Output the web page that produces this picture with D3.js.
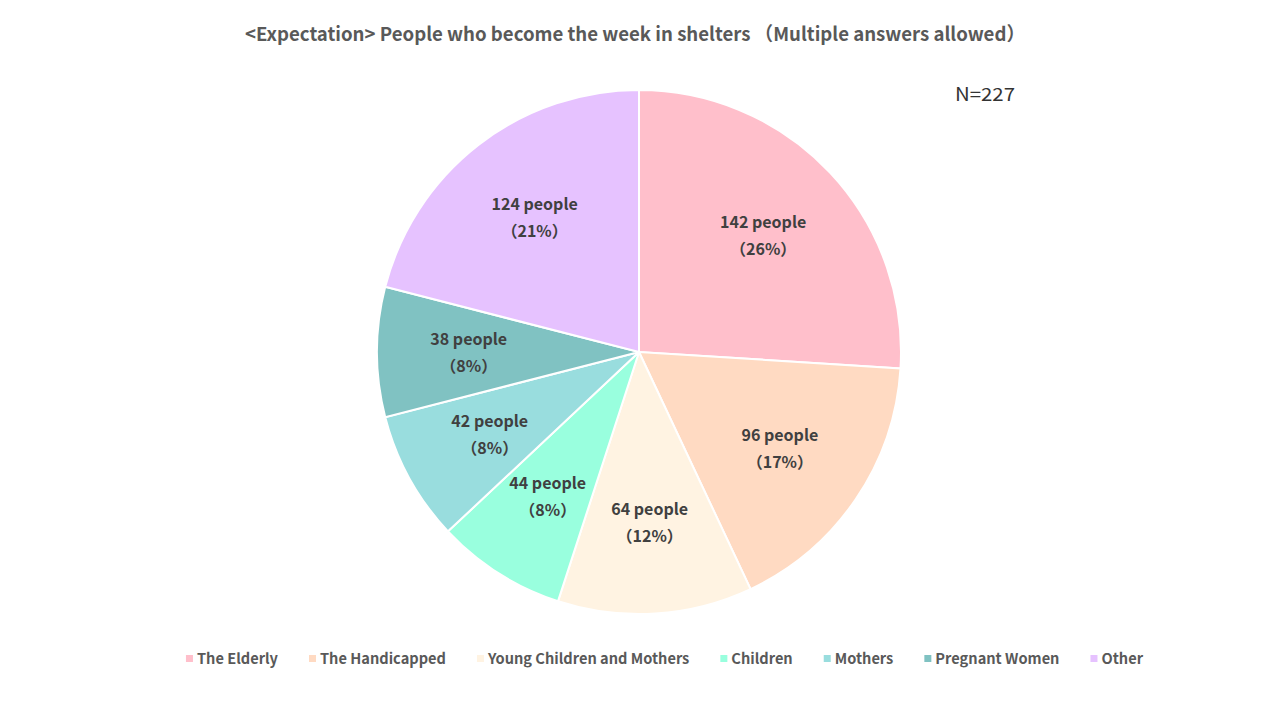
<!DOCTYPE html>
<html>
<head>
<meta charset="utf-8">
<script src="https://cdn.jsdelivr.net/npm/d3@7"></script>
<style>
  body { margin: 0; background: #fff; }
  svg { display: block; }
</style>
</head>
<body>
<svg></svg>
<script>
// data
var categories = ["The Elderly", "The Handicapped", "Young Children and Mothers",
    "Children", "Mothers", "Pregnant Women", "Other"];
var counts = [142, 96, 64, 44, 42, 38, 124];
// slices in the reference are sized by the shown percentages
var percents = [26, 17, 12, 8, 8, 8, 21];
var colors = ["#FFBFCB", "#FFDAC2", "#FFF3E2", "#99FFDE", "#99DDDE", "#80C2C2", "#E6C2FF"];

var w = 1280;
var h = 720;
var cx = 639, cy = 352, r = 262;
var font = "'Noto Sans CJK JP', 'Noto Sans', sans-serif";

var svg = d3.select("svg")
    .attr("width", w)
    .attr("height", h);

// title
svg.append("text")
    .attr("x", 635)
    .attr("y", 41)
    .attr("text-anchor", "middle")
    .attr("font-family", font)
    .attr("font-weight", "bold")
    .attr("font-size", "19px")
    .attr("fill", "#595959")
    .attr("textLength", 780)
    .attr("lengthAdjust", "spacingAndGlyphs")
    .text("<Expectation> People who become the week in shelters （Multiple answers allowed）");

svg.append("text")
    .attr("x", 955)
    .attr("y", 101)
    .attr("font-family", font)
    .attr("font-size", "18px")
    .attr("fill", "#333")
    .attr("textLength", 60)
    .attr("lengthAdjust", "spacingAndGlyphs")
    .text("N=227");

var pie = d3.pie().sort(null).value(function (d) { return d; });
var arcs = pie(percents);

var arc = d3.arc().innerRadius(0).outerRadius(r);
var labelArc = d3.arc().innerRadius(r * 0.65).outerRadius(r * 0.65);

var g = svg.append("g").attr("transform", "translate(" + cx + "," + cy + ")");

g.selectAll("path")
    .data(arcs)
    .enter()
    .append("path")
    .attr("d", arc)
    .attr("fill", function (d, i) { return colors[i]; })
    .attr("stroke", "#fff")
    .attr("stroke-width", 2);

var labels = g.selectAll("text.lbl")
    .data(arcs)
    .enter()
    .append("text")
    .attr("class", "lbl")
    .attr("transform", function (d) { return "translate(" + labelArc.centroid(d) + ")"; })
    .attr("text-anchor", "middle")
    .attr("font-family", font)
    .attr("font-weight", "bold")
    .attr("font-size", "16px")
    .attr("fill", "#404040");

labels.append("tspan")
    .attr("x", 0)
    .attr("y", -7)
    .text(function (d, i) { return counts[i] + " people"; });

labels.append("tspan")
    .attr("x", 0)
    .attr("y", 20)
    .text(function (d, i) { return "（" + percents[i] + "%）"; });

// legend, laid out from measured text widths
var legend = svg.append("g");
var items = legend.selectAll("g")
    .data(categories)
    .enter()
    .append("g");

items.append("rect")
    .attr("width", 7)
    .attr("height", 7)
    .attr("y", -4)
    .attr("fill", function (d, i) { return colors[i]; });

items.append("text")
    .attr("x", 11)
    .attr("y", 5)
    .attr("font-family", font)
    .attr("font-weight", "bold")
    .attr("font-size", "14.6px")
    .attr("fill", "#595959")
    .text(function (d) { return d; });

var xpos = 0;
var gap = 31;
items.each(function () {
    var node = d3.select(this);
    node.attr("transform", "translate(" + xpos + ",0)");
    xpos += 11 + node.select("text").node().getComputedTextLength() + gap;
});
var total = xpos - gap;
legend.attr("transform", "translate(" + (664.5 - total / 2) + ",659)");
</script>
</body>
</html>
